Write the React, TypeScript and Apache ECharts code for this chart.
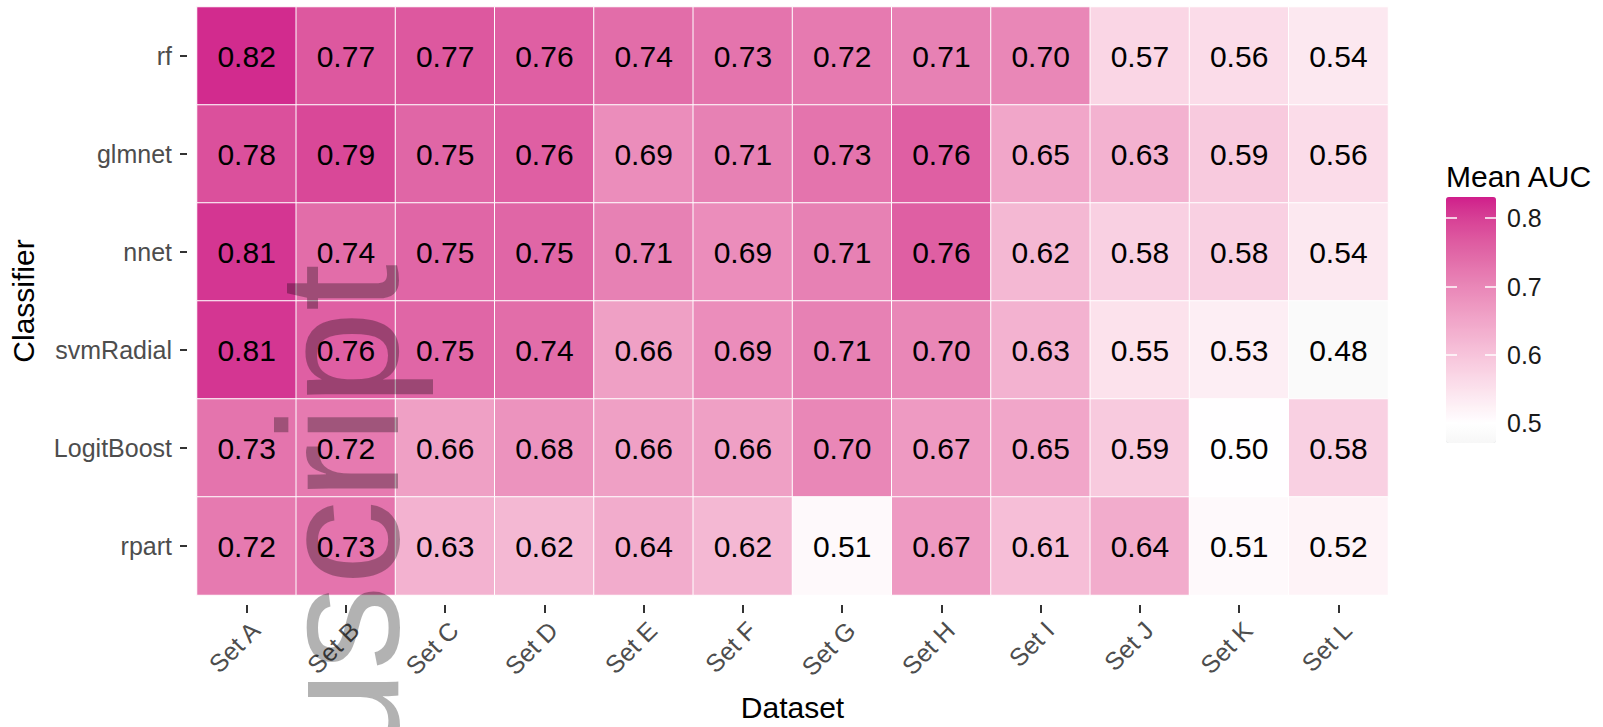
import React, { useEffect, useRef } from "react";
import * as echarts from "echarts";

const datasets = ["Set A", "Set B", "Set C", "Set D", "Set E", "Set F", "Set G", "Set H", "Set I", "Set J", "Set K", "Set L"];
const classifiers = ["rf", "glmnet", "nnet", "svmRadial", "LogitBoost", "rpart"];

const aucRf = [0.82, 0.77, 0.77, 0.76, 0.74, 0.73, 0.72, 0.71, 0.70, 0.57, 0.56, 0.54];
const aucGlmnet = [0.78, 0.79, 0.75, 0.76, 0.69, 0.71, 0.73, 0.76, 0.65, 0.63, 0.59, 0.56];
const aucNnet = [0.81, 0.74, 0.75, 0.75, 0.71, 0.69, 0.71, 0.76, 0.62, 0.58, 0.58, 0.54];
const aucSvmRadial = [0.81, 0.76, 0.75, 0.74, 0.66, 0.69, 0.71, 0.70, 0.63, 0.55, 0.53, 0.48];
const aucLogitBoost = [0.73, 0.72, 0.66, 0.68, 0.66, 0.66, 0.70, 0.67, 0.65, 0.59, 0.50, 0.58];
const aucRpart = [0.72, 0.73, 0.63, 0.62, 0.64, 0.62, 0.51, 0.67, 0.61, 0.64, 0.51, 0.52];

const aucRows = [aucRf, aucGlmnet, aucNnet, aucSvmRadial, aucLogitBoost, aucRpart];

const legendTicks = [0.5, 0.6, 0.7, 0.8];
const scaleMin = 0.471;
const scaleMax = 0.831;
const scaleMid = 0.5;

const FONT = "'Liberation Sans', Arial, Helvetica, sans-serif";

// --- diverging colour ramp interpolated in CIELAB (like ggplot's gradient2) ---
const LOW = "#a9a9a9";
const MID = "#ffffff";
const HIGH = "#d01c8b";

function toLin(c: number) {
  const v = c / 255;
  return v <= 0.04045 ? v / 12.92 : Math.pow((v + 0.055) / 1.055, 2.4);
}
function fromLin(v: number) {
  const s = v <= 0.0031308 ? 12.92 * v : 1.055 * Math.pow(v, 1 / 2.4) - 0.055;
  return Math.round(Math.max(0, Math.min(1, s)) * 255);
}
const Xn = 0.95047, Yn = 1, Zn = 1.08883;
function fLab(t: number) {
  return t > 216 / 24389 ? Math.cbrt(t) : (24389 / 27 * t + 16) / 116;
}
function fInv(t: number) {
  return t * t * t > 216 / 24389 ? t * t * t : (116 * t - 16) / (24389 / 27);
}
function hexToLab(hex: string) {
  const r = toLin(parseInt(hex.slice(1, 3), 16));
  const g = toLin(parseInt(hex.slice(3, 5), 16));
  const b = toLin(parseInt(hex.slice(5, 7), 16));
  const X = 0.4124 * r + 0.3576 * g + 0.1805 * b;
  const Y = 0.2126 * r + 0.7152 * g + 0.0722 * b;
  const Z = 0.0193 * r + 0.1192 * g + 0.9505 * b;
  const fx = fLab(X / Xn), fy = fLab(Y / Yn), fz = fLab(Z / Zn);
  return [116 * fy - 16, 500 * (fx - fy), 200 * (fy - fz)];
}
function labToHex(lab: number[]) {
  const fy = (lab[0] + 16) / 116;
  const fx = fy + lab[1] / 500;
  const fz = fy - lab[2] / 200;
  const X = Xn * fInv(fx), Y = Yn * fInv(fy), Z = Zn * fInv(fz);
  const r = 3.2406 * X - 1.5372 * Y - 0.4986 * Z;
  const g = -0.9689 * X + 1.8758 * Y + 0.0415 * Z;
  const b = 0.0557 * X - 0.204 * Y + 1.057 * Z;
  const h = (n: number) => fromLin(n).toString(16).padStart(2, "0");
  return "#" + h(r) + h(g) + h(b);
}
function buildRamp(n: number) {
  const lo = hexToLab(LOW), mi = hexToLab(MID), hi = hexToLab(HIGH);
  const maxDist = Math.max(Math.abs(scaleMax - scaleMid), Math.abs(scaleMin - scaleMid));
  const out: string[] = [];
  for (let i = 0; i < n; i++) {
    const v = scaleMin + ((scaleMax - scaleMin) * i) / (n - 1);
    const t = (v - scaleMid) / maxDist;
    const target = t >= 0 ? hi : lo;
    const f = Math.abs(t);
    out.push(labToHex([0, 1, 2].map((k) => mi[k] + (target[k] - mi[k]) * f)));
  }
  return out;
}

export default function App() {
  const ref = useRef<HTMLDivElement>(null);

  useEffect(() => {
    if (!ref.current) return;
    const chart = echarts.init(ref.current, undefined, { renderer: "svg" });

    const data: number[][] = [];
    aucRows.forEach((row, yi) => {
      row.forEach((v, xi) => data.push([xi, yi, v]));
    });

    const option: any = {
      animation: false,
      backgroundColor: "#ffffff",
      textStyle: { fontFamily: FONT },
      grid: [
        { left: 196, right: 215, top: 7, bottom: 129, containLabel: false },
        { left: 1446, top: 197, width: 50, height: 246, containLabel: false },
      ],
      xAxis: [
        {
          type: "category",
          gridIndex: 0,
          data: datasets,
          offset: 10,
          axisLine: { show: false },
          axisTick: { show: true, alignWithLabel: true, length: 8, lineStyle: { color: "#333333", width: 2 } },
          axisLabel: {
            rotate: 45,
            fontSize: 25,
            color: "#4d4d4d",
            margin: 12,
            verticalAlign: "top",
            align: "right",
            fontFamily: FONT,
            interval: 0,
          },
          splitLine: { show: false },
          name: "Dataset",
          nameLocation: "middle",
          nameGap: 87,
          nameMoveOverlap: false,
          nameTextStyle: { fontSize: 30, color: "#000000", fontFamily: FONT },
        },
        { type: "value", gridIndex: 1, show: false, min: 0, max: 1 },
      ],
      yAxis: [
        {
          type: "category",
          gridIndex: 0,
          data: classifiers,
          inverse: true,
          offset: 10,
          axisLine: { show: false },
          axisTick: { show: true, alignWithLabel: true, length: 7, lineStyle: { color: "#333333", width: 2 } },
          axisLabel: { fontSize: 25, color: "#4d4d4d", margin: 15, fontFamily: FONT, interval: 0 },
          splitLine: { show: false },
          name: "Classifier",
          nameLocation: "middle",
          nameRotate: 90,
          nameGap: 149,
          nameMoveOverlap: false,
          nameTextStyle: { fontSize: 30, color: "#000000", fontFamily: FONT },
        },
        {
          type: "value",
          gridIndex: 1,
          position: "left",
          min: scaleMin,
          max: scaleMax,
          z: 10,
          axisLine: { show: false },
          axisTick: { show: true, inside: true, length: 11, customValues: legendTicks, lineStyle: { color: "#ffffff", width: 1.5 } },
          axisLabel: { show: false },
          splitLine: { show: false },
        },
        {
          type: "value",
          gridIndex: 1,
          position: "right",
          min: scaleMin,
          max: scaleMax,
          z: 10,
          axisLine: { show: false },
          axisTick: { show: true, inside: true, length: 11, customValues: legendTicks, lineStyle: { color: "#ffffff", width: 1.5 } },
          axisLabel: {
            show: true,
            customValues: legendTicks,
            fontSize: 25,
            color: "#1a1a1a",
            margin: 11,
            fontFamily: FONT,
            formatter: (v: number) => v.toFixed(1),
          },
          splitLine: { show: false },
        },
      ],
      visualMap: {
        type: "continuous",
        seriesIndex: 0,
        dimension: 2,
        min: scaleMin,
        max: scaleMax,
        calculable: false,
        orient: "vertical",
        left: 1446,
        top: 197,
        itemWidth: 50,
        itemHeight: 246,
        padding: 0,
        inRange: { color: buildRamp(73) },
        text: null,
        showLabel: false,
        hoverLink: false,
      },
      series: [
        {
          type: "heatmap",
          xAxisIndex: 0,
          yAxisIndex: 0,
          data,
          itemStyle: { borderColor: "#ffffff", borderWidth: 1 },
          label: {
            show: true,
            fontSize: 30,
            color: "#000000",
            fontFamily: FONT,
            formatter: (p: any) => Number(p.value[2]).toFixed(2),
          },
          emphasis: { disabled: true },
        },
      ],
      graphic: [
        {
          type: "text",
          x: 1446,
          y: 176,
          style: {
            text: "Mean AUC",
            fontSize: 30,
            fontFamily: FONT,
            fill: "#000000",
            align: "left",
            verticalAlign: "middle",
          },
        },
        {
          type: "text",
          x: 339,
          y: 264,
          rotation: Math.PI / 2,
          z: 100,
          silent: true,
          style: {
            text: "Manuscript",
            fontSize: 170,
            fontFamily: FONT,
            fill: "rgba(0,0,0,0.3)",
            align: "right",
            verticalAlign: "middle",
          },
        },
      ],
    };

    chart.setOption(option);
    return () => chart.dispose();
  }, []);

  return (
    <div
      ref={ref}
      style={{ position: "fixed", left: 0, top: 0, width: 1603, height: 727, background: "#ffffff" }}
    />
  );
}
